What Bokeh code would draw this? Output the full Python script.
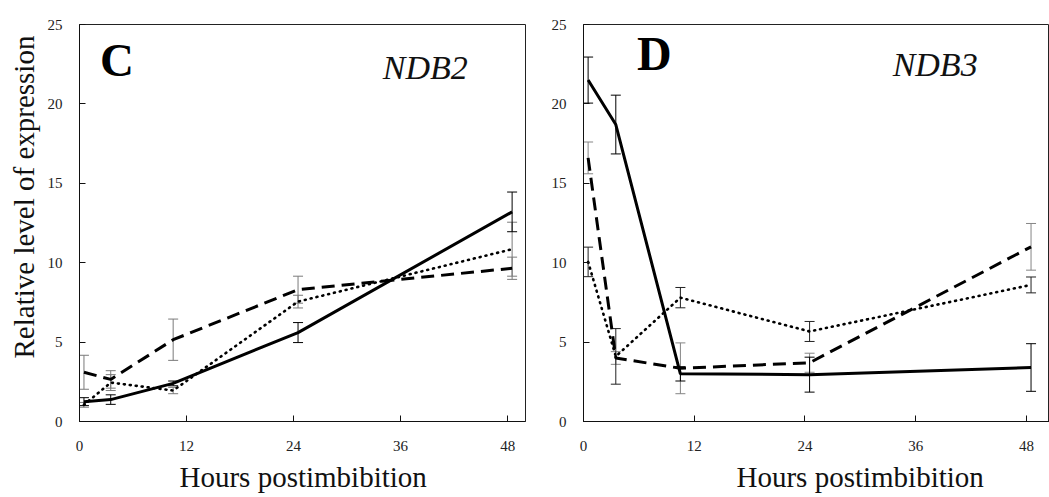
import math
from bokeh.plotting import figure
from bokeh.layouts import row
from bokeh.models import ColumnDataSource, Whisker, TeeHead, Label, FixedTicker, Range1d, Title
from bokeh.embed import file_html
from bokeh.resources import INLINE

# ---------------- data ----------------
hours = [0.5, 3.5, 10.5, 24.5, 48.5]
x_ticks = [0, 12, 24, 36, 48]
y_ticks = [0, 5, 10, 15, 20, 25]

ndb2_solid = [1.25, 1.38, 2.4, 5.6, 13.2]
ndb2_solid_err = [0.25, 0.3, 0.15, 0.63, 1.25]
ndb2_dashed = [3.1, 2.65, 5.15, 8.3, 9.65]
ndb2_dashed_err = [1.07, 0.55, 1.3, 0.85, 0.7]
ndb2_dotted = [1.05, 2.45, 1.95, 7.55, 10.85]
ndb2_dotted_err = [0.15, 0.5, 0.2, 0.4, 1.7]

ndb3_solid = [21.5, 18.7, 3.0, 2.95, 3.4]
ndb3_solid_err = [1.45, 1.85, 0.45, 1.1, 1.5]
ndb3_dashed = [16.6, 4.0, 3.35, 3.7, 11.0]
ndb3_dashed_err = [1.0, 0.4, 1.6, 0.6, 1.47]
ndb3_dotted = [10.05, 4.1, 7.8, 5.67, 8.6]
ndb3_dotted_err = [0.93, 1.75, 0.64, 0.63, 0.5]

panel_letters = ["C", "D"]
gene_names = ["NDB2", "NDB3"]
x_title = "Hours postimbibition"
y_title = "Relative level of expression"

SERIF = "Liberation Serif"


def make_panel(width, b_left, b_right, b_top, b_bottom, xmax):
    p = figure(width=width, height=497, x_range=Range1d(0, xmax), y_range=Range1d(0, 25),
               output_backend="svg", toolbar_location=None,
               min_border_left=b_left, min_border_right=b_right,
               min_border_top=b_top, min_border_bottom=b_bottom)
    p.xgrid.visible = False
    p.ygrid.visible = False
    p.outline_line_color = "#222222"
    p.outline_line_width = 1
    p.background_fill_color = "white"
    p.border_fill_color = "white"
    for ax, ticks, standoff in ((p.xaxis[0], x_ticks, 19), (p.yaxis[0], y_ticks, 17)):
        ax.ticker = FixedTicker(ticks=ticks)
        ax.major_tick_in = 6
        ax.major_tick_out = 0
        ax.minor_tick_line_color = None
        ax.axis_line_color = "#111111"
        ax.major_tick_line_color = "#111111"
        ax.major_label_text_font = SERIF
        ax.major_label_text_font_size = "15px"
        ax.major_label_text_color = "#222222"
        ax.major_label_standoff = standoff
    return p


def add_series(p, vals, errs, dash, err_color, width, cap="butt"):
    src = ColumnDataSource(dict(x=hours, y=vals,
                                upper=[v + e for v, e in zip(vals, errs)],
                                lower=[v - e for v, e in zip(vals, errs)]))
    w = Whisker(base="x", upper="upper", lower="lower", source=src,
                line_color=err_color, line_width=1,
                upper_head=TeeHead(size=10, line_color=err_color, line_width=1),
                lower_head=TeeHead(size=10, line_color=err_color, line_width=1))
    p.add_layout(w)
    p.line("x", "y", source=src, line_color="black", line_width=width,
           line_dash=dash, line_cap=cap)


def axis_title(text, offset, standoff):
    return Title(text=text, align="left", offset=offset, standoff=standoff,
                 vertical_align="bottom",
                 text_font=SERIF, text_font_size="29px", text_font_style="normal",
                 text_color="#111111")


# ---------------- left panel (NDB2) ----------------
p1 = make_panel(530, 79, 5, 21, 76, 50.0)
add_series(p1, ndb2_dashed, ndb2_dashed_err, "13 7", "#7a7a7a", 3)
add_series(p1, ndb2_dotted, ndb2_dotted_err, "1 5", "#7a7a7a", 2.6, "round")
add_series(p1, ndb2_solid, ndb2_solid_err, "solid", "#000000", 3)

p1.add_layout(Label(x=2.3, y=21.1, text=panel_letters[0], text_font=SERIF,
                    text_font_style="bold", text_font_size="47px", text_color="black"))
p1.add_layout(Label(x=34.0, y=21.1, text=gene_names[0], text_font=SERIF,
                    text_font_style="italic", text_font_size="34px", text_color="#111111"))
p1.add_layout(axis_title(x_title, 100, 10), "below")
p1.add_layout(axis_title(y_title, 63, 9), "left")

# ---------------- right panel (NDB3) ----------------
p2 = make_panel(519, 53, 0, 24, 75, 50.5)
add_series(p2, ndb3_dashed, ndb3_dashed_err, "13 7", "#858585", 3)
add_series(p2, ndb3_dotted, ndb3_dotted_err, "1 5", "#222222", 2.6, "round")
add_series(p2, ndb3_solid, ndb3_solid_err, "solid", "#000000", 3)

p2.add_layout(Label(x=5.8, y=21.5, text=panel_letters[1], text_font=SERIF,
                    text_font_style="bold", text_font_size="48px", text_color="black"))
p2.add_layout(Label(x=33.5, y=21.3, text=gene_names[1], text_font=SERIF,
                    text_font_style="italic", text_font_size="34px", text_color="#111111"))
p2.add_layout(axis_title(x_title, 153, 10), "below")

layout = row(p1, p2)
open("out.html", "w").write(file_html(layout, INLINE))
